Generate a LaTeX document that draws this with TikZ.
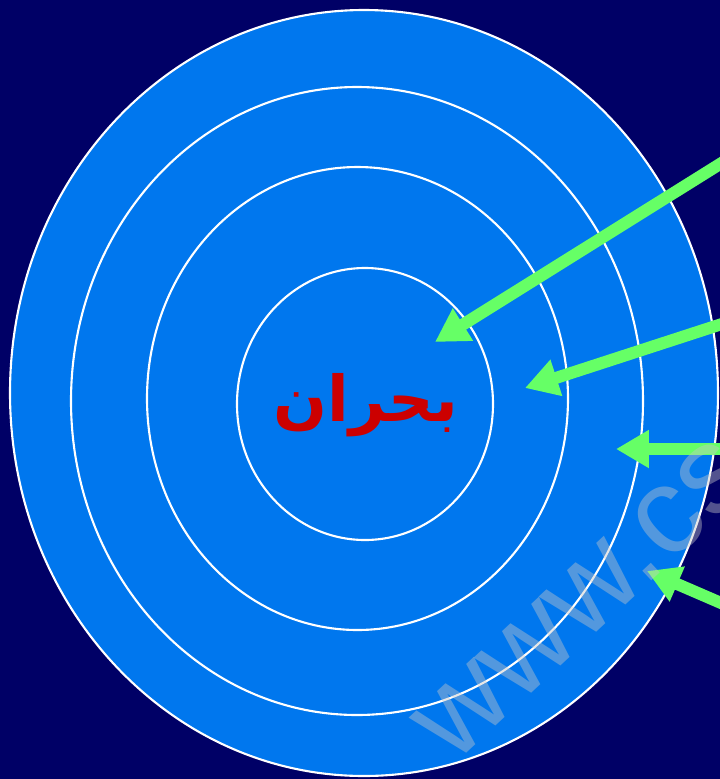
\documentclass[tikz,border=0pt]{standalone}
\usepackage{fontspec}
\setmainfont{Liberation Sans}
\newfontfamily\arabicfont[Script=Arabic]{DejaVu Sans}
\TeXXeTstate=1
\usetikzlibrary{arrows.meta}

\definecolor{bgnavy}{RGB}{0,0,102}
\definecolor{ringblue}{RGB}{0,119,238}
\definecolor{pushgreen}{RGB}{102,255,102}
\definecolor{crisisred}{RGB}{204,0,0}
\definecolor{markgray}{RGB}{200,200,200}

\begin{document}
\begin{tikzpicture}[x=0.02cm, y=-0.02cm, >={Triangle[length=0.66cm, width=0.72cm]}]
\tikzset{
  ring/.style={draw=white, line width=1.2pt, fill=ringblue},
  push/.style={->, draw=pushgreen, fill=pushgreen, line width=0.24cm},
  crisislabel/.style={text=crisisred, font=\arabicfont\bfseries\fontsize{36}{40}\selectfont, inner sep=0pt},
  watermark/.style={text=markgray, opacity=0.42, font=\fontsize{70}{80}\selectfont, inner sep=0pt, anchor=base west, rotate=43}
}

% background and frame
\fill[bgnavy] (0,0) rectangle (720,779);
\clip (0,0) rectangle (720,779);

% rings, outer to inner
\draw[ring] (364,393) ellipse [x radius=354, y radius=383];
\draw[ring] (357,401) ellipse [x radius=286, y radius=314];
\draw[ring] (357.5,398.5) ellipse [x radius=210.5, y radius=231.5];
\draw[ring] (365,404) ellipse [x radius=128, y radius=136];

\node[crisislabel] (crisis) at (366,405) {\beginR بحران\endR};

% arrows coming in from the right
\coordinate (s1) at (728,159);
\coordinate (t1) at (435,342);
\coordinate (s2) at (728,322);
\coordinate (t2) at (525,388);
\coordinate (s3) at (728,449);
\coordinate (t3) at (616,449);
\coordinate (s4) at (728,606);
\coordinate (t4) at (647,571);

\draw[push] (s1) -- (t1);
\draw[push] (s2) -- (t2);
\draw[push] (s3) -- (t3);
\draw[push] (s4) -- (t4);

\node[watermark] (mark) at (453,766) {www.cs};
\end{tikzpicture}
\end{document}
